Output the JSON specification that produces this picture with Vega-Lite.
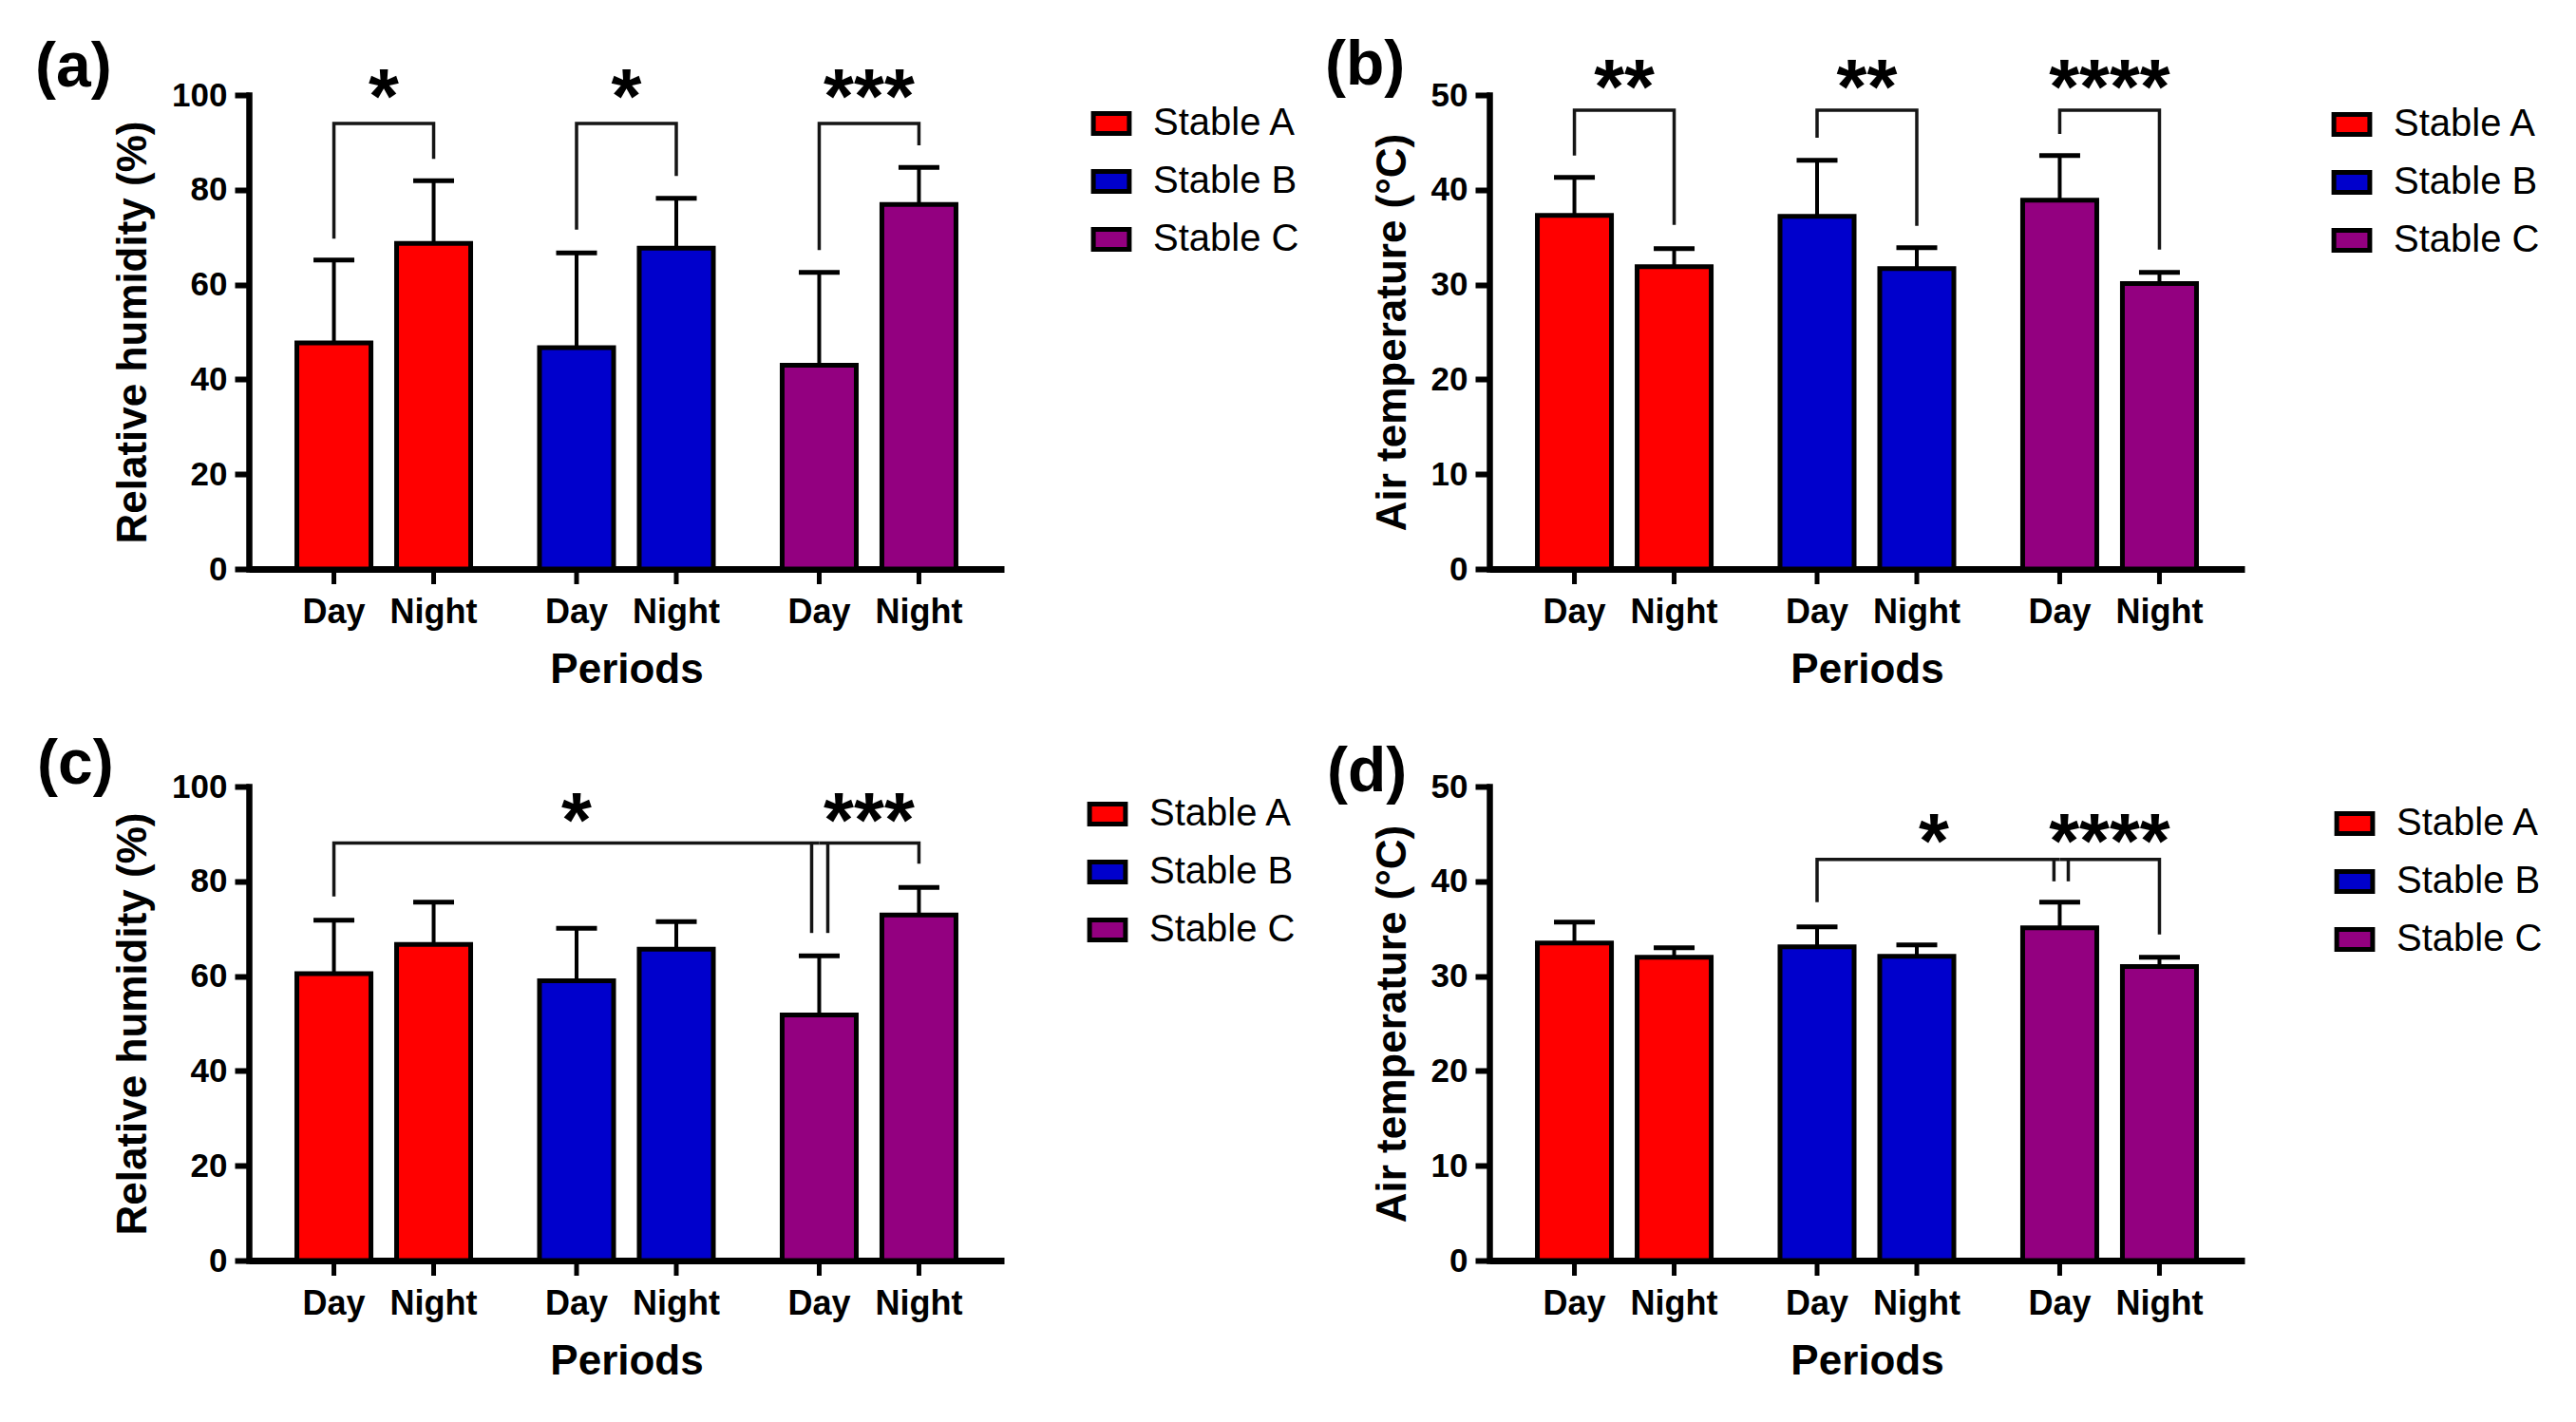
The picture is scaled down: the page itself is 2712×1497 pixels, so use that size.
{
  "$schema": "https://vega.github.io/schema/vega-lite/v6.json",
  "background": "white",
  "padding": {"left": 37, "top": 35, "right": 10, "bottom": 10},
  "datasets": {
    "a": [
      {"Stable": "Stable A", "Period": "Day", "mean": 47.7, "err": 65.2},
      {"Stable": "Stable A", "Period": "Night", "mean": 68.7, "err": 81.9},
      {"Stable": "Stable B", "Period": "Day", "mean": 46.7, "err": 66.7},
      {"Stable": "Stable B", "Period": "Night", "mean": 67.7, "err": 78.2},
      {"Stable": "Stable C", "Period": "Day", "mean": 43.0, "err": 62.6},
      {"Stable": "Stable C", "Period": "Night", "mean": 76.9, "err": 84.7}
    ],
    "a_br": [
      {"bid": 1, "ord": 1, "Stable": "Stable A", "Period": "Day", "y": 69.7},
      {"bid": 1, "ord": 2, "Stable": "Stable A", "Period": "Day", "y": 94.0},
      {"bid": 1, "ord": 3, "Stable": "Stable A", "Period": "Night", "y": 94.0},
      {"bid": 1, "ord": 4, "Stable": "Stable A", "Period": "Night", "y": 86.5},
      {"bid": 2, "ord": 1, "Stable": "Stable B", "Period": "Day", "y": 71.6},
      {"bid": 2, "ord": 2, "Stable": "Stable B", "Period": "Day", "y": 94.0},
      {"bid": 2, "ord": 3, "Stable": "Stable B", "Period": "Night", "y": 94.0},
      {"bid": 2, "ord": 4, "Stable": "Stable B", "Period": "Night", "y": 82.9},
      {"bid": 3, "ord": 1, "Stable": "Stable C", "Period": "Day", "y": 67.3},
      {"bid": 3, "ord": 2, "Stable": "Stable C", "Period": "Day", "y": 94.0},
      {"bid": 3, "ord": 3, "Stable": "Stable C", "Period": "Night", "y": 94.0},
      {"bid": 3, "ord": 4, "Stable": "Stable C", "Period": "Night", "y": 89.4}
    ],
    "a_st": [
      {"Stable": "Stable A", "label": "*", "y": 94.2},
      {"Stable": "Stable B", "label": "*", "y": 94.2},
      {"Stable": "Stable C", "label": "***", "y": 94.2}
    ],
    "b": [
      {"Stable": "Stable A", "Period": "Day", "mean": 37.3, "err": 41.3},
      {"Stable": "Stable A", "Period": "Night", "mean": 31.9, "err": 33.8},
      {"Stable": "Stable B", "Period": "Day", "mean": 37.2, "err": 43.1},
      {"Stable": "Stable B", "Period": "Night", "mean": 31.7, "err": 33.9},
      {"Stable": "Stable C", "Period": "Day", "mean": 38.9, "err": 43.6},
      {"Stable": "Stable C", "Period": "Night", "mean": 30.1, "err": 31.3}
    ],
    "b_br": [
      {"bid": 1, "ord": 1, "Stable": "Stable A", "Period": "Day", "y": 43.6},
      {"bid": 1, "ord": 2, "Stable": "Stable A", "Period": "Day", "y": 48.4},
      {"bid": 1, "ord": 3, "Stable": "Stable A", "Period": "Night", "y": 48.4},
      {"bid": 1, "ord": 4, "Stable": "Stable A", "Period": "Night", "y": 36.3},
      {"bid": 2, "ord": 1, "Stable": "Stable B", "Period": "Day", "y": 45.5},
      {"bid": 2, "ord": 2, "Stable": "Stable B", "Period": "Day", "y": 48.4},
      {"bid": 2, "ord": 3, "Stable": "Stable B", "Period": "Night", "y": 48.4},
      {"bid": 2, "ord": 4, "Stable": "Stable B", "Period": "Night", "y": 36.2},
      {"bid": 3, "ord": 1, "Stable": "Stable C", "Period": "Day", "y": 45.9},
      {"bid": 3, "ord": 2, "Stable": "Stable C", "Period": "Day", "y": 48.4},
      {"bid": 3, "ord": 3, "Stable": "Stable C", "Period": "Night", "y": 48.4},
      {"bid": 3, "ord": 4, "Stable": "Stable C", "Period": "Night", "y": 33.7}
    ],
    "b_st": [
      {"Stable": "Stable A", "label": "**", "y": 48.1},
      {"Stable": "Stable B", "label": "**", "y": 48.1},
      {"Stable": "Stable C", "label": "****", "y": 48.1}
    ],
    "c": [
      {"Stable": "Stable A", "Period": "Day", "mean": 60.5, "err": 71.8},
      {"Stable": "Stable A", "Period": "Night", "mean": 66.7, "err": 75.6},
      {"Stable": "Stable B", "Period": "Day", "mean": 59.0, "err": 70.1},
      {"Stable": "Stable B", "Period": "Night", "mean": 65.7, "err": 71.5},
      {"Stable": "Stable C", "Period": "Day", "mean": 51.8, "err": 64.3},
      {"Stable": "Stable C", "Period": "Night", "mean": 72.9, "err": 78.7}
    ],
    "c_br": [
      {"bid": 1, "ord": 1, "Stable": "Stable A", "Period": "Day", "y": 76.8},
      {"bid": 1, "ord": 2, "Stable": "Stable A", "Period": "Day", "y": 88.1},
      {"bid": 1, "ord": 3, "Stable": "Stable C", "Period": "Day", "y": 88.1},
      {"bid": 2, "ord": 1, "Stable": "Stable C", "Period": "Day", "y": 88.1},
      {"bid": 2, "ord": 2, "Stable": "Stable C", "Period": "Night", "y": 88.1},
      {"bid": 2, "ord": 3, "Stable": "Stable C", "Period": "Night", "y": 83.7}
    ],
    "c_leg": [{"Stable": "Stable C", "y": 69.1, "y2": 88.1}],
    "c_st1": [{"Stable": "Stable B", "Period": "Day", "label": "*", "y": 87.3}],
    "c_st2": [{"Stable": "Stable C", "label": "***", "y": 87.3}],
    "d": [
      {"Stable": "Stable A", "Period": "Day", "mean": 33.5, "err": 35.7},
      {"Stable": "Stable A", "Period": "Night", "mean": 32.0, "err": 33.0},
      {"Stable": "Stable B", "Period": "Day", "mean": 33.1, "err": 35.2},
      {"Stable": "Stable B", "Period": "Night", "mean": 32.1, "err": 33.3},
      {"Stable": "Stable C", "Period": "Day", "mean": 35.1, "err": 37.8},
      {"Stable": "Stable C", "Period": "Night", "mean": 31.0, "err": 32.0}
    ],
    "d_br": [
      {"bid": 1, "ord": 1, "Stable": "Stable B", "Period": "Day", "y": 37.8},
      {"bid": 1, "ord": 2, "Stable": "Stable B", "Period": "Day", "y": 42.3},
      {"bid": 1, "ord": 3, "Stable": "Stable C", "Period": "Day", "y": 42.3},
      {"bid": 2, "ord": 1, "Stable": "Stable C", "Period": "Day", "y": 42.3},
      {"bid": 2, "ord": 2, "Stable": "Stable C", "Period": "Night", "y": 42.3},
      {"bid": 2, "ord": 3, "Stable": "Stable C", "Period": "Night", "y": 34.4}
    ],
    "d_leg": [{"Stable": "Stable C", "y": 40.0, "y2": 42.3}],
    "d_st1": [{"Stable": "Stable B", "Period": "Night", "label": "*", "y": 41.45}],
    "d_st2": [{"Stable": "Stable C", "label": "****", "y": 41.45}]
  },
  "config": {
    "view": {"stroke": null},
    "font": "Liberation Sans",
    "axis": {"grid": false, "domainColor": "black", "tickColor": "black", "labelColor": "black", "titleColor": "black", "labelFont": "Liberation Sans", "titleFont": "Liberation Sans"},
    "axisY": {"domainWidth": 6.5, "tickWidth": 6, "tickSize": 15, "labelFontSize": 35, "labelFontWeight": "bold", "labelPadding": 8, "titleFontSize": 44, "titleFontWeight": "bold", "titlePadding": 18, "domainCap": "square"},
    "axisX": {"domainWidth": 7, "ticks": false, "labels": false, "titleFontSize": 44, "titleFontWeight": "bold", "titlePadding": 84},
    "title": {"anchor": "start", "frame": "group", "fontSize": 66, "fontWeight": "bold", "font": "Liberation Sans", "color": "black", "baseline": "alphabetic", "orient": "top", "offset": 0},
    "legend": {"title": null, "orient": "none", "padding": 0, "labelFontSize": 40, "labelFont": "Liberation Sans", "labelColor": "black", "symbolType": "M-1.8,-1H1.8V1H-1.8Z", "symbolSize": 441, "symbolStrokeColor": "black", "symbolStrokeWidth": 5, "symbolOpacity": 1, "rowPadding": 19, "labelOffset": 24}
  },
  "columns": 2,
  "bounds": "flush",
  "spacing": {"row": 229, "column": 511},
  "resolve": {"legend": {"color": "independent"}},
  "concat": [
    {
      "width": 795, "height": 499,
      "title": {"text": "(a)", "dx": -225, "dy": 46},
      "layer": [
        {"data": {"name": "a"}, "mark": {"type": "bar", "stroke": "black", "strokeWidth": 5},
         "encoding": {
           "x": {"field": "Stable", "type": "nominal", "scale": {"type": "band", "domain": ["Stable A", "Stable B", "Stable C"], "paddingInner": 0.178, "paddingOuter": 0.145}, "axis": {"title": "Periods"}},
           "xOffset": {"field": "Period", "type": "nominal", "scale": {"type": "band", "domain": ["Day", "Night"], "paddingInner": 0.257, "paddingOuter": 0.1285}},
           "y": {"field": "mean", "type": "quantitative", "scale": {"domain": [0, 100], "nice": false}, "axis": {"title": "Relative humidity (%)", "values": [0, 20, 40, 60, 80, 100]}},
           "color": {"field": "Stable", "type": "nominal", "scale": {"domain": ["Stable A", "Stable B", "Stable C"], "range": ["#FF0000", "#0000CC", "#930080"]},
             "legend": {"title": null, "orient": "none", "legendX": 888, "legendY": 10}}
         }},
        {"data": {"name": "a"}, "mark": {"type": "rule", "color": "black", "strokeWidth": 4},
         "encoding": {"x": {"field": "Stable", "type": "nominal"}, "xOffset": {"field": "Period", "type": "nominal"}, "y": {"field": "mean", "type": "quantitative"}, "y2": {"field": "err"}}},
        {"data": {"name": "a"}, "mark": {"type": "tick", "color": "black", "size": 43, "thickness": 5, "opacity": 1},
         "encoding": {"x": {"field": "Stable", "type": "nominal"}, "xOffset": {"field": "Period", "type": "nominal"}, "y": {"field": "err", "type": "quantitative"}}},
        {"data": {"name": "a"}, "mark": {"type": "rule", "color": "black", "strokeWidth": 5, "y2Offset": 16},
         "encoding": {"x": {"field": "Stable", "type": "nominal"}, "xOffset": {"field": "Period", "type": "nominal"}, "y": {"datum": 0}, "y2": {"datum": 0}}},
        {"data": {"name": "a"}, "mark": {"type": "text", "fontSize": 36, "fontWeight": "bold", "baseline": "alphabetic", "dy": 57, "color": "black"},
         "encoding": {"x": {"field": "Stable", "type": "nominal"}, "xOffset": {"field": "Period", "type": "nominal"}, "y": {"datum": 0}, "text": {"field": "Period"}}},
        {"data": {"name": "a_br"}, "mark": {"type": "line", "color": "#151515", "strokeWidth": 3.5},
         "encoding": {"x": {"field": "Stable", "type": "nominal"}, "xOffset": {"field": "Period", "type": "nominal"}, "y": {"field": "y", "type": "quantitative"}, "detail": {"field": "bid"}, "order": {"field": "ord"}}},
        {"data": {"name": "a_st"}, "mark": {"type": "text", "fontSize": 82, "fontWeight": "bold", "baseline": "alphabetic", "color": "black"},
         "encoding": {"x": {"field": "Stable", "type": "nominal"}, "y": {"field": "y", "type": "quantitative"}, "text": {"field": "label"}}}
      ]
    },
    {
      "width": 795, "height": 499,
      "title": {"text": "(b)", "dx": -173, "dy": 54},
      "layer": [
        {"data": {"name": "b"}, "mark": {"type": "bar", "stroke": "black", "strokeWidth": 5},
         "encoding": {
           "x": {"field": "Stable", "type": "nominal", "scale": {"type": "band", "domain": ["Stable A", "Stable B", "Stable C"], "paddingInner": 0.178, "paddingOuter": 0.145}, "axis": {"title": "Periods"}},
           "xOffset": {"field": "Period", "type": "nominal", "scale": {"type": "band", "domain": ["Day", "Night"], "paddingInner": 0.257, "paddingOuter": 0.1285}},
           "y": {"field": "mean", "type": "quantitative", "scale": {"domain": [0, 50], "nice": false}, "axis": {"title": "Air temperature (°C)", "values": [0, 10, 20, 30, 40, 50]}},
           "color": {"field": "Stable", "type": "nominal", "scale": {"domain": ["Stable A", "Stable B", "Stable C"], "range": ["#FF0000", "#0000CC", "#930080"]},
             "legend": {"title": null, "orient": "none", "legendX": 888, "legendY": 11}}
         }},
        {"data": {"name": "b"}, "mark": {"type": "rule", "color": "black", "strokeWidth": 4},
         "encoding": {"x": {"field": "Stable", "type": "nominal"}, "xOffset": {"field": "Period", "type": "nominal"}, "y": {"field": "mean", "type": "quantitative"}, "y2": {"field": "err"}}},
        {"data": {"name": "b"}, "mark": {"type": "tick", "color": "black", "size": 43, "thickness": 5, "opacity": 1},
         "encoding": {"x": {"field": "Stable", "type": "nominal"}, "xOffset": {"field": "Period", "type": "nominal"}, "y": {"field": "err", "type": "quantitative"}}},
        {"data": {"name": "b"}, "mark": {"type": "rule", "color": "black", "strokeWidth": 5, "y2Offset": 16},
         "encoding": {"x": {"field": "Stable", "type": "nominal"}, "xOffset": {"field": "Period", "type": "nominal"}, "y": {"datum": 0}, "y2": {"datum": 0}}},
        {"data": {"name": "b"}, "mark": {"type": "text", "fontSize": 36, "fontWeight": "bold", "baseline": "alphabetic", "dy": 57, "color": "black"},
         "encoding": {"x": {"field": "Stable", "type": "nominal"}, "xOffset": {"field": "Period", "type": "nominal"}, "y": {"datum": 0}, "text": {"field": "Period"}}},
        {"data": {"name": "b_br"}, "mark": {"type": "line", "color": "#151515", "strokeWidth": 3.5},
         "encoding": {"x": {"field": "Stable", "type": "nominal"}, "xOffset": {"field": "Period", "type": "nominal"}, "y": {"field": "y", "type": "quantitative"}, "detail": {"field": "bid"}, "order": {"field": "ord"}}},
        {"data": {"name": "b_st"}, "mark": {"type": "text", "fontSize": 82, "fontWeight": "bold", "baseline": "alphabetic", "color": "black"},
         "encoding": {"x": {"field": "Stable", "type": "nominal"}, "y": {"field": "y", "type": "quantitative"}, "text": {"field": "label"}}}
      ]
    },
    {
      "width": 795, "height": 499,
      "title": {"text": "(c)", "dx": -223, "dy": 32},
      "layer": [
        {"data": {"name": "c"}, "mark": {"type": "bar", "stroke": "black", "strokeWidth": 5},
         "encoding": {
           "x": {"field": "Stable", "type": "nominal", "scale": {"type": "band", "domain": ["Stable A", "Stable B", "Stable C"], "paddingInner": 0.178, "paddingOuter": 0.145}, "axis": {"title": "Periods"}},
           "xOffset": {"field": "Period", "type": "nominal", "scale": {"type": "band", "domain": ["Day", "Night"], "paddingInner": 0.257, "paddingOuter": 0.1285}},
           "y": {"field": "mean", "type": "quantitative", "scale": {"domain": [0, 100], "nice": false}, "axis": {"title": "Relative humidity (%)", "values": [0, 20, 40, 60, 80, 100]}},
           "color": {"field": "Stable", "type": "nominal", "scale": {"domain": ["Stable A", "Stable B", "Stable C"], "range": ["#FF0000", "#0000CC", "#930080"]},
             "legend": {"title": null, "orient": "none", "legendX": 884, "legendY": 9}}
         }},
        {"data": {"name": "c"}, "mark": {"type": "rule", "color": "black", "strokeWidth": 4},
         "encoding": {"x": {"field": "Stable", "type": "nominal"}, "xOffset": {"field": "Period", "type": "nominal"}, "y": {"field": "mean", "type": "quantitative"}, "y2": {"field": "err"}}},
        {"data": {"name": "c"}, "mark": {"type": "tick", "color": "black", "size": 43, "thickness": 5, "opacity": 1},
         "encoding": {"x": {"field": "Stable", "type": "nominal"}, "xOffset": {"field": "Period", "type": "nominal"}, "y": {"field": "err", "type": "quantitative"}}},
        {"data": {"name": "c"}, "mark": {"type": "rule", "color": "black", "strokeWidth": 5, "y2Offset": 16},
         "encoding": {"x": {"field": "Stable", "type": "nominal"}, "xOffset": {"field": "Period", "type": "nominal"}, "y": {"datum": 0}, "y2": {"datum": 0}}},
        {"data": {"name": "c"}, "mark": {"type": "text", "fontSize": 36, "fontWeight": "bold", "baseline": "alphabetic", "dy": 57, "color": "black"},
         "encoding": {"x": {"field": "Stable", "type": "nominal"}, "xOffset": {"field": "Period", "type": "nominal"}, "y": {"datum": 0}, "text": {"field": "Period"}}},
        {"data": {"name": "c_br"}, "mark": {"type": "line", "color": "#151515", "strokeWidth": 3.5},
         "encoding": {"x": {"field": "Stable", "type": "nominal"}, "xOffset": {"field": "Period", "type": "nominal"}, "y": {"field": "y", "type": "quantitative"}, "detail": {"field": "bid"}, "order": {"field": "ord"}}},
        {"data": {"name": "c_leg"}, "mark": {"type": "rule", "color": "#151515", "strokeWidth": 3.5},
         "encoding": {"x": {"field": "Stable", "type": "nominal", "bandPosition": 0.212}, "y": {"field": "y", "type": "quantitative"}, "y2": {"field": "y2"}}},
        {"data": {"name": "c_leg"}, "mark": {"type": "rule", "color": "#151515", "strokeWidth": 3.5},
         "encoding": {"x": {"field": "Stable", "type": "nominal", "bandPosition": 0.293}, "y": {"field": "y", "type": "quantitative"}, "y2": {"field": "y2"}}},
        {"data": {"name": "c_st1"}, "mark": {"type": "text", "fontSize": 82, "fontWeight": "bold", "baseline": "alphabetic", "color": "black"},
         "encoding": {"x": {"field": "Stable", "type": "nominal"}, "xOffset": {"field": "Period", "type": "nominal"}, "y": {"field": "y", "type": "quantitative"}, "text": {"field": "label"}}},
        {"data": {"name": "c_st2"}, "mark": {"type": "text", "fontSize": 82, "fontWeight": "bold", "baseline": "alphabetic", "color": "black"},
         "encoding": {"x": {"field": "Stable", "type": "nominal"}, "y": {"field": "y", "type": "quantitative"}, "text": {"field": "label"}}}
      ]
    },
    {
      "width": 795, "height": 499,
      "title": {"text": "(d)", "dx": -171, "dy": 40},
      "layer": [
        {"data": {"name": "d"}, "mark": {"type": "bar", "stroke": "black", "strokeWidth": 5},
         "encoding": {
           "x": {"field": "Stable", "type": "nominal", "scale": {"type": "band", "domain": ["Stable A", "Stable B", "Stable C"], "paddingInner": 0.178, "paddingOuter": 0.145}, "axis": {"title": "Periods"}},
           "xOffset": {"field": "Period", "type": "nominal", "scale": {"type": "band", "domain": ["Day", "Night"], "paddingInner": 0.257, "paddingOuter": 0.1285}},
           "y": {"field": "mean", "type": "quantitative", "scale": {"domain": [0, 50], "nice": false}, "axis": {"title": "Air temperature (°C)", "values": [0, 10, 20, 30, 40, 50]}},
           "color": {"field": "Stable", "type": "nominal", "scale": {"domain": ["Stable A", "Stable B", "Stable C"], "range": ["#FF0000", "#0000CC", "#930080"]},
             "legend": {"title": null, "orient": "none", "legendX": 891, "legendY": 19}}
         }},
        {"data": {"name": "d"}, "mark": {"type": "rule", "color": "black", "strokeWidth": 4},
         "encoding": {"x": {"field": "Stable", "type": "nominal"}, "xOffset": {"field": "Period", "type": "nominal"}, "y": {"field": "mean", "type": "quantitative"}, "y2": {"field": "err"}}},
        {"data": {"name": "d"}, "mark": {"type": "tick", "color": "black", "size": 43, "thickness": 5, "opacity": 1},
         "encoding": {"x": {"field": "Stable", "type": "nominal"}, "xOffset": {"field": "Period", "type": "nominal"}, "y": {"field": "err", "type": "quantitative"}}},
        {"data": {"name": "d"}, "mark": {"type": "rule", "color": "black", "strokeWidth": 5, "y2Offset": 16},
         "encoding": {"x": {"field": "Stable", "type": "nominal"}, "xOffset": {"field": "Period", "type": "nominal"}, "y": {"datum": 0}, "y2": {"datum": 0}}},
        {"data": {"name": "d"}, "mark": {"type": "text", "fontSize": 36, "fontWeight": "bold", "baseline": "alphabetic", "dy": 57, "color": "black"},
         "encoding": {"x": {"field": "Stable", "type": "nominal"}, "xOffset": {"field": "Period", "type": "nominal"}, "y": {"datum": 0}, "text": {"field": "Period"}}},
        {"data": {"name": "d_br"}, "mark": {"type": "line", "color": "#151515", "strokeWidth": 3.5},
         "encoding": {"x": {"field": "Stable", "type": "nominal"}, "xOffset": {"field": "Period", "type": "nominal"}, "y": {"field": "y", "type": "quantitative"}, "detail": {"field": "bid"}, "order": {"field": "ord"}}},
        {"data": {"name": "d_leg"}, "mark": {"type": "rule", "color": "#151515", "strokeWidth": 3.5},
         "encoding": {"x": {"field": "Stable", "type": "nominal", "bandPosition": 0.221}, "y": {"field": "y", "type": "quantitative"}, "y2": {"field": "y2"}}},
        {"data": {"name": "d_leg"}, "mark": {"type": "rule", "color": "#151515", "strokeWidth": 3.5},
         "encoding": {"x": {"field": "Stable", "type": "nominal", "bandPosition": 0.293}, "y": {"field": "y", "type": "quantitative"}, "y2": {"field": "y2"}}},
        {"data": {"name": "d_st1"}, "mark": {"type": "text", "fontSize": 82, "fontWeight": "bold", "baseline": "alphabetic", "color": "black", "dx": 18},
         "encoding": {"x": {"field": "Stable", "type": "nominal"}, "xOffset": {"field": "Period", "type": "nominal"}, "y": {"field": "y", "type": "quantitative"}, "text": {"field": "label"}}},
        {"data": {"name": "d_st2"}, "mark": {"type": "text", "fontSize": 82, "fontWeight": "bold", "baseline": "alphabetic", "color": "black"},
         "encoding": {"x": {"field": "Stable", "type": "nominal"}, "y": {"field": "y", "type": "quantitative"}, "text": {"field": "label"}}}
      ]
    }
  ]
}
